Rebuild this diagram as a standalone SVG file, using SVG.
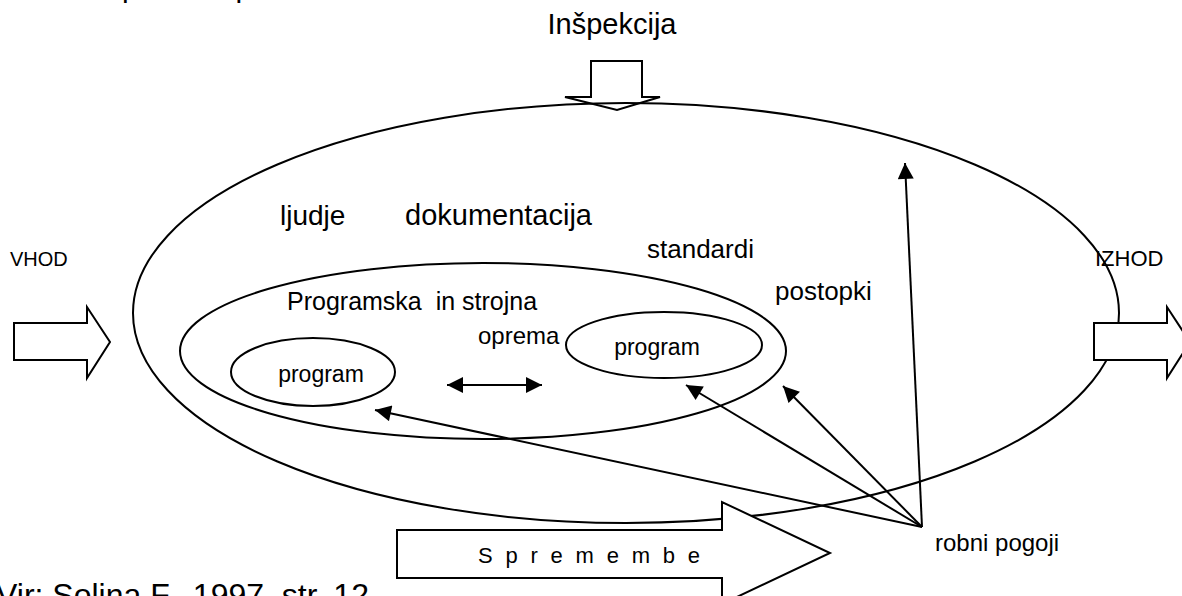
<svg xmlns="http://www.w3.org/2000/svg" width="1182" height="596" viewBox="0 0 1182 596">
  <defs>
    <marker id="tip" viewBox="0 0 10 10" refX="10" refY="5" markerWidth="9" markerHeight="8" markerUnits="strokeWidth" orient="auto-start-reverse">
      <path d="M0,0 L10,5 L0,10 z" fill="#000"/>
    </marker>
    <style>
      .txt { font-family: "Liberation Sans", Arial, sans-serif; fill: #000; }
      .shape { fill: #fff; stroke: #000; stroke-width: 2; }
      .ring { fill: none; stroke: #000; stroke-width: 2; }
      .link { stroke: #000; stroke-width: 2; fill: none; }
    </style>
  </defs>
  <rect width="1182" height="596" fill="#fff"/>

  <!-- heading clipped at the top edge -->
  <text class="txt" x="122" y="-3" font-size="30">proces sprememb</text>

  <!-- inspection block arrow -->
  <g id="inspekcija">
    <text class="txt" x="612" y="34" font-size="29" text-anchor="middle">Inšpekcija</text>
    <path class="shape" d="M591,61 H642 V97 H660 L617,110 L565,97 H591 Z"/>
  </g>

  <!-- outer system -->
  <g id="sistem">
    <ellipse class="ring" cx="626" cy="313" rx="493" ry="210"/>
    <text class="txt" x="280" y="225" font-size="28">ljudje</text>
    <text class="txt" x="405" y="225" font-size="29">dokumentacija</text>
    <text class="txt" x="647" y="258" font-size="26">standardi</text>
    <text class="txt" x="775" y="300" font-size="26">postopki</text>
  </g>

  <!-- software and hardware -->
  <g id="oprema">
    <ellipse class="ring" cx="483" cy="351" rx="303" ry="88"/>
    <text class="txt" x="287" y="310" font-size="25" xml:space="preserve">Programska  in strojna</text>
    <text class="txt" x="478" y="344" font-size="24">oprema</text>
  </g>

  <g id="program-1">
    <ellipse class="ring" cx="313" cy="372" rx="82" ry="34"/>
    <text class="txt" x="321" y="382" font-size="23" text-anchor="middle">program</text>
  </g>

  <g id="program-2">
    <ellipse class="ring" cx="664" cy="345" rx="98" ry="33"/>
    <text class="txt" x="657" y="355" font-size="23" text-anchor="middle">program</text>
  </g>

  <!-- input / output -->
  <g id="vhod">
    <text class="txt" x="10" y="266" font-size="20">VHOD</text>
    <path class="shape" d="M14,323 H87 V307 L110,342 L87,378 V360 H14 Z"/>
  </g>
  <g id="izhod">
    <text class="txt" x="1095" y="266" font-size="22">IZHOD</text>
    <path class="shape" d="M1094,323 H1167 V307 L1190,342 L1167,378 V360 H1094 Z"/>
  </g>

  <!-- changes -->
  <g id="spremembe">
    <path class="shape" d="M397,530 H722 V502 L830,553 L722,604 V578 H397 Z"/>
    <text class="txt" x="478" y="563" font-size="22" textLength="222" lengthAdjust="spacing" xml:space="preserve">S p r e m e m b e</text>
  </g>

  <g id="robni-pogoji">
    <text class="txt" x="935" y="551" font-size="24">robni pogoji</text>
  </g>

  <text class="txt" x="-4" y="606" font-size="32">Vir: Solina F., 1997, str. 12</text>

  <!-- connectors -->
  <g id="connectors">
    <line class="link" x1="447" y1="385" x2="542" y2="385" marker-start="url(#tip)" marker-end="url(#tip)"/>
    <line class="link" x1="922" y1="527" x2="375" y2="410" marker-end="url(#tip)"/>
    <line class="link" x1="922" y1="527" x2="686" y2="385" marker-end="url(#tip)"/>
    <line class="link" x1="922" y1="527" x2="783" y2="386" marker-end="url(#tip)"/>
    <line class="link" x1="922" y1="527" x2="905" y2="163" marker-end="url(#tip)"/>
  </g>
</svg>
